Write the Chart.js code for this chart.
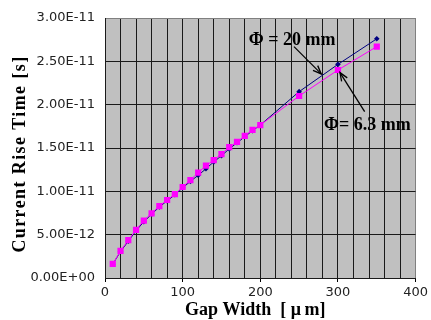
<!DOCTYPE html>
<html lang="en">
<head>
<meta charset="UTF-8">
<title>Current Rise Time vs Gap Width</title>
<script src="https://cdn.jsdelivr.net/npm/chart.js@4.4.0/dist/chart.umd.min.js"></script>
<style>
  html, body { margin: 0; padding: 0; background: #fff; }
  #wrap { width: 431px; height: 320px; }
</style>
</head>
<body>
<div id="wrap"><canvas id="riseChart"></canvas></div>
<script>
// gap width in um, rise time in ps (labels shown in seconds)
const gapWidth = [10, 20, 30, 40, 50, 60, 70, 80, 90, 100, 110, 120, 130, 140, 150, 160, 170, 180, 190, 200, 250, 300, 350];
const rise20mm = [1.6, 3.05, 4.25, 5.45, 6.5, 7.35, 8.2, 8.9, 9.6, 10.4, 11.15, 11.85, 12.6, 13.4, 14.1, 14.9, 15.6, 16.3, 17.0, 17.65, 21.5, 24.65, 27.6];
const rise63mm = [1.62, 3.12, 4.37, 5.55, 6.62, 7.46, 8.3, 9.0, 9.67, 10.5, 11.3, 12.15, 12.96, 13.6, 14.3, 15.1, 15.7, 16.4, 17.1, 17.65, 21.0, 24.0, 26.7];

const xTitle = 'Gap Width  [ \u03BC\u2009m]';
const yTitle = 'Current Rise Time [s]';

// callouts: text position and arrow (from -> to) in data units
const callouts = [
  { text: '\u03A6 = 20 mm', x: 241, y: 27.45, from: [243.4, 26.7], to: [278.5, 23.55] },
  { text: '\u03A6= 6.3 mm', x: 338, y: 17.65, from: [334.4, 19.2], to: [302.6, 23.7] }
];

function sciLabel(ps) {
  const v = ps * 1e-12;
  if (v === 0) return '0.00E+00';
  const parts = v.toExponential(2).split('e');
  const exp = parseInt(parts[1], 10);
  const sign = exp < 0 ? '-' : '+';
  return parts[0] + 'E' + sign + String(Math.abs(exp)).padStart(2, '0');
}

const serif = '"Liberation Serif", "Times New Roman", serif';

const plotBg = {
  id: 'plotBg',
  beforeDraw(chart) {
    const a = chart.chartArea, ctx = chart.ctx;
    ctx.save();
    ctx.fillStyle = '#c0c0c0';
    ctx.fillRect(a.left, a.top, a.right - a.left, a.bottom - a.top);
    ctx.restore();
  }
};

const axisTitles = {
  id: 'axisTitles',
  afterDraw(chart) {
    const ctx = chart.ctx, a = chart.chartArea;
    ctx.save();
    ctx.fillStyle = '#000';
    ctx.textAlign = 'center';
    ctx.textBaseline = 'alphabetic';
    ctx.font = 'bold 18px ' + serif;
    ctx.fillText(xTitle, (a.left + a.right) / 2 - 5, 315);
    ctx.translate(25, (a.top + a.bottom) / 2 + 6);
    ctx.rotate(-Math.PI / 2);
    ctx.letterSpacing = '1.4px';
    ctx.fillText(yTitle, 0, 0);
    ctx.restore();
  }
};

const calloutPlugin = {
  id: 'callouts',
  afterDatasetsDraw(chart) {
    const ctx = chart.ctx, xs = chart.scales.x, ys = chart.scales.y;
    ctx.save();
    ctx.font = 'bold 18px ' + serif;
    ctx.fillStyle = '#000';
    ctx.textAlign = 'center';
    ctx.textBaseline = 'middle';
    callouts.forEach(c => {
      ctx.fillText(c.text, xs.getPixelForValue(c.x), ys.getPixelForValue(c.y));
      const x1 = xs.getPixelForValue(c.from[0]), y1 = ys.getPixelForValue(c.from[1]);
      const x2 = xs.getPixelForValue(c.to[0]), y2 = ys.getPixelForValue(c.to[1]);
      ctx.strokeStyle = '#000';
      ctx.lineWidth = 1.3;
      ctx.beginPath();
      ctx.moveTo(x1, y1);
      ctx.lineTo(x2, y2);
      ctx.stroke();
      const ang = Math.atan2(y2 - y1, x2 - x1);
      const len = 9, spread = 0.38;
      ctx.beginPath();
      ctx.moveTo(x2 - len * Math.cos(ang - spread), y2 - len * Math.sin(ang - spread));
      ctx.lineTo(x2, y2);
      ctx.lineTo(x2 - len * Math.cos(ang + spread), y2 - len * Math.sin(ang + spread));
      ctx.stroke();
    });
    ctx.restore();
  }
};

const ctx = document.getElementById('riseChart').getContext('2d');
new Chart(ctx, {
  type: 'line',
  data: {
    datasets: [{
      label: '\u03A6 = 6.3 mm',
      data: gapWidth.map((g, i) => ({ x: g, y: rise63mm[i] })),
      borderColor: '#ff00ff',
      backgroundColor: '#ff00ff',
      borderWidth: 1,
      pointStyle: 'rect',
      pointRadius: 4.4,
      pointBorderWidth: 0,
      tension: 0,
      order: 0
    }, {
      label: '\u03A6 = 20 mm',
      data: gapWidth.map((g, i) => ({ x: g, y: rise20mm[i] })),
      borderColor: '#000080',
      backgroundColor: '#000080',
      borderWidth: 1,
      pointStyle: 'rectRot',
      pointRadius: 2.8,
      pointBorderWidth: 0,
      tension: 0,
      order: 1
    }]
  },
  options: {
    responsive: true,
    maintainAspectRatio: false,
    animation: false,
    events: [],
    layout: { padding: { left: 0, right: 11, top: 18, bottom: 0 } },
    plugins: {
      legend: { display: false },
      tooltip: { enabled: false }
    },
    scales: {
      x: {
        type: 'linear',
        min: 0,
        max: 400,
        afterFit: s => { s.height = 42; },
        ticks: {
          stepSize: 20,
          autoSkip: false,
          maxRotation: 0,
          padding: 3,
          color: '#222',
          font: { family: '"DejaVu Sans", sans-serif', size: 13 },
          callback: v => (v % 100 === 0 ? String(v) : '')
        },
        grid: {
          color: c => (c.tick && c.tick.value === 400 ? '#808080' : '#1a1a1a'),
          lineWidth: 1,
          tickLength: 4,
          tickColor: c => (c.tick && c.tick.value % 100 === 0 ? '#000' : 'rgba(0,0,0,0)')
        },
        border: { color: '#1a1a1a', width: 1 },
        title: { display: false }
      },
      y: {
        min: 0,
        max: 30,
        afterFit: s => { s.width = 105; },
        ticks: {
          stepSize: 5,
          padding: 10,
          color: '#222',
          font: { family: '"DejaVu Sans", sans-serif', size: 13 },
          callback: v => sciLabel(v)
        },
        grid: {
          color: c => (c.tick && c.tick.value === 30 ? '#808080' : '#1a1a1a'),
          lineWidth: 1,
          drawTicks: false
        },
        border: { color: '#1a1a1a', width: 1 },
        title: { display: false }
      }
    }
  },
  plugins: [plotBg, axisTitles, calloutPlugin]
});
</script>
</body>
</html>
